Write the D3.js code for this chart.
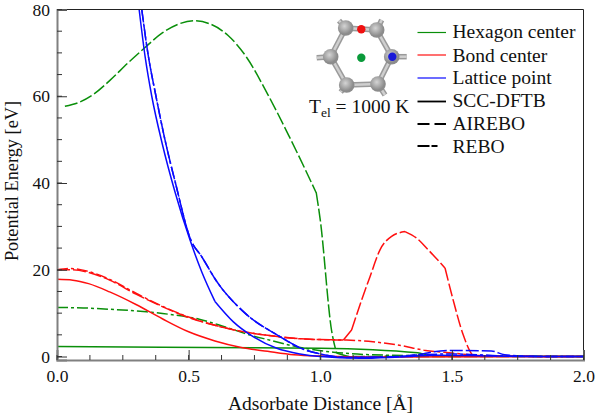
<!DOCTYPE html>
<html><head><meta charset="utf-8">
<script src="https://cdn.jsdelivr.net/npm/d3@7"></script>
<style>html,body{margin:0;background:#fff}svg{display:block}text{font-family:"Liberation Serif",serif;fill:#111}</style>
</head><body><svg id="c" width="600" height="417"></svg>
<script>
const hexDftb=[[0,2.3],[0.4,2.15],[0.75,2.0],[1.0,1.9],[1.37,0.85],[1.42,0.25],[1.7,0.05],[2,0]];
const hexAirebo=[[0.03,57.7],[0.08,58.5],[0.14,60.5],[0.2,63.6],[0.27,67.7],[0.33,71],[0.4,74.6],[0.46,76.6],[0.52,77.4],[0.58,76.7],[0.65,74],[0.72,69],[0.8,60.5],[0.88,51],[0.94,43.5],[0.985,37.7],[1.0,31.5],[1.043,6],[1.062,0.8],[1.12,0],[2,0]];
const hexRebo=[[0,11.3],[0.1,11.2],[0.2,10.9],[0.34,10.3],[0.43,9.7],[0.54,8.6],[0.63,7],[0.73,5],[0.8,3.9],[0.9,2.4],[0.97,1.6],[1.05,1],[1.2,0.4],[1.4,0.2],[2,0]];
const bondDftb=[[0,17.8],[0.06,17.6],[0.12,16.8],[0.2,14.9],[0.3,12],[0.4,8.7],[0.5,5.7],[0.6,3.6],[0.7,2.1],[0.8,1.2],[0.9,0.4],[1,0.1],[1.2,-0.1],[2,0]];
const bondAirebo=[[0,20],[0.05,20],[0.12,19.4],[0.2,17.6],[0.3,14.4],[0.4,11.5],[0.5,9],[0.6,7.2],[0.7,5.8],[0.8,4.9],[0.9,4.2],[1.0,3.9],[1.088,3.8],[1.119,6.1],[1.157,13],[1.189,18.4],[1.227,24.6],[1.271,27.7],[1.322,28.8],[1.366,27.3],[1.41,24.6],[1.474,20.4],[1.505,13],[1.543,5],[1.569,1.2],[1.58,0.2],[1.65,0.1],[2,0]];
const bondRebo=[[0,20],[0.05,20.3],[0.12,19.6],[0.2,17.8],[0.3,14.6],[0.4,11.6],[0.5,9.1],[0.6,7.2],[0.7,5.8],[0.8,4.9],[0.9,4.2],[1.0,3.9],[1.1,3.8],[1.2,3.4],[1.3,2.6],[1.4,1.4],[1.5,0.8],[1.6,0.25],[1.75,0.05],[2,0]];
const latDftb=[[0.312,80],[0.335,69],[0.36,60],[0.4,49],[0.448,38],[0.505,26.9],[0.55,19.5],[0.6,12.7],[0.67,8],[0.745,4.6],[0.835,1.9],[0.923,0.6],[1.0,0],[1.15,-0.4],[1.3,-0.1],[1.45,0.3],[1.6,0.2],[1.8,0],[2,0]];
const latAirebo=[[0.322,80],[0.345,70],[0.376,60],[0.41,50],[0.45,40],[0.508,26.9],[0.55,23],[0.607,17.3],[0.707,10.4],[0.847,4.6],[0.923,2],[1.0,0.6],[1.1,-0.2],[1.25,-0.1],[1.38,0.5],[1.42,1],[1.5,1.4],[1.65,1.3],[1.7,0.4],[1.8,0.05],[2,0]];
const latRebo=[[0.322,80],[0.345,70],[0.376,60],[0.41,50],[0.45,40],[0.508,26.9],[0.55,23],[0.607,17.3],[0.707,10.4],[0.847,4.6],[0.923,2],[1.0,0.6],[1.1,-0.2],[1.25,-0.1],[1.38,0.4],[1.5,0.6],[1.6,0.4],[1.75,0.05],[2,0]];
const xMajor=[0,0.5,1,1.5,2];
const yMajor=[0,20,40,60,80];
const legendNames=["Hexagon center","Bond center","Lattice point","SCC-DFTB","AIREBO","REBO"];
const hexKinks=[0.985,1.062],bondKinks=[1.088,1.119,1.322,1.474,1.58],latKinks=[0.6],noKinks=[];

const GREEN="#0a8f0a",RED="#ff1010",BLUE="#0a0aff",DASH="13,3",DASHDOT="11,3,3,3";
const svg=d3.select("#c");
const x=d3.scaleLinear().domain([0,2]).range([57,583.5]);
const y=d3.scaleLinear().domain([-0.8,80]).range([360,9.5]);
const line=d3.line().x(d=>x(d[0])).y(d=>y(d[1])).curve(d3.curveMonotoneX);
// split at sharp corners so the smooth curve does not round them off
function pathOf(d,kinks){
  let out="",cur=[];
  d.forEach(p=>{cur.push(p);if(kinks.includes(p[0])){out+=line(cur);cur=[p];}});
  if(cur.length>1)out+=line(cur);
  return out;
}
svg.append("defs").append("clipPath").attr("id","p").append("rect").attr("x",57).attr("y",9.5).attr("width",526.5).attr("height",350.5);
const g=svg.append("g").attr("clip-path","url(#p)");
[[hexRebo,GREEN,DASHDOT,noKinks],[hexAirebo,GREEN,DASH,hexKinks],[hexDftb,GREEN,null,noKinks],
 [bondDftb,RED,null,noKinks],[bondRebo,RED,DASHDOT,noKinks],[bondAirebo,RED,DASH,bondKinks],
 [latDftb,BLUE,null,latKinks],[latRebo,BLUE,DASHDOT,noKinks],[latAirebo,BLUE,DASH,noKinks]].forEach(([d,c,da,k])=>{
  g.append("path").attr("d",pathOf(d,k)).attr("fill","none").attr("stroke",c).attr("stroke-width",1.5).attr("stroke-dasharray",da);
});
svg.append("path").attr("d",`M57,9.5H583.5V360`).attr("fill","none").attr("stroke","#222").attr("stroke-width",1);
const xa=svg.append("g").attr("transform","translate(0,360)").call(d3.axisBottom(x).tickValues(xMajor).tickFormat(d3.format(".1f")).tickSize(-10).tickPadding(10));
const ya=svg.append("g").attr("transform","translate(57,0)").call(d3.axisLeft(y).tickValues(yMajor).tickFormat(d3.format("d")).tickSize(-10).tickPadding(7));
const xMinor=d3.range(0,2.0001,0.125), yMinor=d3.range(0,80.01,5);
svg.append("g").selectAll("line").data(xMinor).join("line").attr("x1",d=>x(d)).attr("x2",d=>x(d)).attr("y1",360).attr("y2",355).attr("stroke","#333");
svg.append("g").selectAll("line").data(yMinor).join("line").attr("x1",57).attr("x2",62).attr("y1",d=>y(d)).attr("y2",d=>y(d)).attr("stroke","#333");
[xa,ya].forEach(a=>{a.selectAll(".tick line").attr("stroke","#333");a.selectAll("text").attr("font-size",17.5).style("font-family",'"Liberation Serif",serif');a.select(".domain").attr("stroke","#808080").attr("stroke-width",2);});
svg.append("text").attr("x",320.5).attr("y",410).attr("text-anchor","middle").attr("font-size",19.5).text("Adsorbate Distance [Å]");
svg.append("text").attr("transform","translate(18,181) rotate(-90)").attr("text-anchor","middle").attr("font-size",18.3).text("Potential Energy [eV]");
// legend
const lg=svg.append("g");
const lrows=[[32.5,38,GREEN,null],[55,62,RED,null],[78,84,BLUE,null],[101.5,107,"#000",null],[124,130,"#000","12,5"],[146,153,"#000","12,2,6,100"]];
lrows.forEach((r,i)=>{
  lg.append("line").attr("x1",417.5).attr("x2",446).attr("y1",r[0]).attr("y2",r[0]).attr("stroke",r[2]).attr("stroke-width",i>2?1.8:1.2).attr("stroke-dasharray",r[3]);
  lg.append("text").attr("x",452.5).attr("y",r[1]).attr("font-size",19.5).text(legendNames[i]);
});
const t=svg.append("text").attr("x",309).attr("y",112.5).attr("font-size",19.5);
t.append("tspan").text("T");
t.append("tspan").attr("dy",4).attr("font-size",13.5).text("el");
t.append("tspan").attr("dy",-4).text(" = 1000 K");
// molecule
const atoms=[[345.7,28],[376.7,30],[330.7,56.7],[391.7,56.7],[346.7,85],[378,84]];
const stubs=[[339,20.7],[381.7,20],[316.7,57.7],[406.7,56.7],[340.7,92],[385,95]];
const m=svg.append("g");
function bond(a,b){
  m.append("line").attr("x1",a[0]).attr("y1",a[1]).attr("x2",b[0]).attr("y2",b[1]).attr("stroke","#9a9a9a").attr("stroke-width",5.5);
  m.append("line").attr("x1",a[0]).attr("y1",a[1]).attr("x2",b[0]).attr("y2",b[1]).attr("stroke","#cfcfcf").attr("stroke-width",2.5);
}
atoms.forEach((a,i)=>bond(a,stubs[i]));
[0,1,3,5,4,2].forEach((k,i,arr)=>bond(atoms[k],atoms[arr[(i+1)%6]]));
const gr=svg.append("defs").append("radialGradient").attr("id","s").attr("cx","42%").attr("cy","38%");
gr.append("stop").attr("offset","0%").attr("stop-color","#d4d4d4");gr.append("stop").attr("offset","100%").attr("stop-color","#8c8c8c");
atoms.forEach(a=>m.append("circle").attr("cx",a[0]).attr("cy",a[1]).attr("r",7.8).attr("fill","url(#s)"));
m.append("circle").attr("cx",361.3).attr("cy",29.3).attr("r",4.2).attr("fill","#f01010");
m.append("circle").attr("cx",361.3).attr("cy",57.7).attr("r",4.2).attr("fill","#0a9a3a");
m.append("circle").attr("cx",392.3).attr("cy",56.7).attr("r",4.2).attr("fill","#1a1ad8");
</script></body></html>
